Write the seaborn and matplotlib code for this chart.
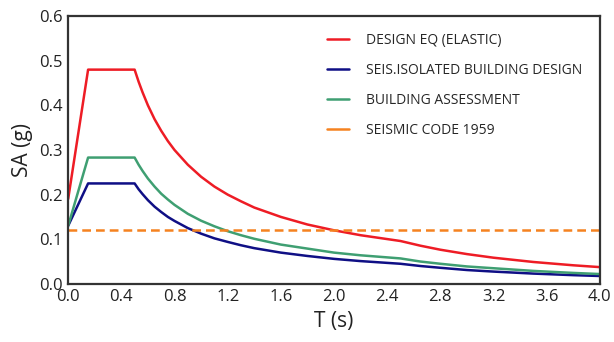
import matplotlib
matplotlib.use("Agg")
import pandas as pd
import matplotlib.pyplot as plt
import seaborn as sns

# Period values (s)
period = [0.0, 0.15, 0.5, 0.53, 0.56, 0.6, 0.65, 0.7, 0.75, 0.8, 0.9, 1.0,
          1.1, 1.2, 1.3, 1.4, 1.6, 1.8, 2.0, 2.2, 2.5, 2.65, 2.8, 3.0, 3.2,
          3.5, 3.8, 4.0]

# Spectral accelerations (g)
design_eq = [0.19, 0.48, 0.48, 0.453, 0.429, 0.40, 0.369, 0.343, 0.32, 0.30,
             0.267, 0.24, 0.218, 0.20, 0.185, 0.171, 0.15, 0.133, 0.12,
             0.109, 0.096, 0.0855, 0.0765, 0.0667, 0.0586, 0.049, 0.0416,
             0.0375]
isolated = [0.13, 0.225, 0.225, 0.212, 0.201, 0.1875, 0.173, 0.161, 0.15,
            0.141, 0.125, 0.1125, 0.102, 0.094, 0.0865, 0.080, 0.070, 0.0625,
            0.056, 0.051, 0.045, 0.040, 0.036, 0.031, 0.0275, 0.023, 0.0195,
            0.0176]
assessment = [0.13, 0.283, 0.283, 0.267, 0.253, 0.236, 0.218, 0.202, 0.189,
              0.177, 0.157, 0.1415, 0.129, 0.118, 0.109, 0.101, 0.088, 0.079,
              0.070, 0.064, 0.057, 0.050, 0.045, 0.039, 0.035, 0.029, 0.0245,
              0.022]
code_1959 = [0.12] * len(period)

labels = ["DESIGN EQ (ELASTIC)", "SEIS.ISOLATED BUILDING DESIGN",
          "BUILDING ASSESSMENT", "SEISMIC CODE 1959"]
colors = ["#ee1c25", "#0f0f85", "#3f9f72", "#f58220"]

df = pd.DataFrame({"T": period * 4,
                   "SA": design_eq + isolated + assessment + code_1959,
                   "series": [l for l in labels for _ in period]})

sns.set_style("white")
plt.rcParams["font.family"] = ["Open Sans", "DejaVu Sans"]

fig = plt.figure(figsize=(6.14, 3.42), dpi=100)
ax = fig.add_axes([0.111, 0.170, 0.866, 0.783])

sns.lineplot(data=df, x="T", y="SA", hue="series", style="series",
             palette=colors, hue_order=labels, style_order=labels,
             dashes={labels[0]: "", labels[1]: "", labels[2]: "", labels[3]: (3.5, 2)},
             linewidth=1.8, ax=ax)

ax.set_xlim(0, 4.0)
ax.set_ylim(0, 0.6)
ax.set_xticks([0.0, 0.4, 0.8, 1.2, 1.6, 2.0, 2.4, 2.8, 3.2, 3.6, 4.0])
ax.set_yticks([0.0, 0.1, 0.2, 0.3, 0.4, 0.5, 0.6])
ax.xaxis.set_major_formatter(matplotlib.ticker.FormatStrFormatter("%.1f"))
ax.yaxis.set_major_formatter(matplotlib.ticker.FormatStrFormatter("%.1f"))
ax.tick_params(axis="both", labelsize=12, colors="#222222", length=0, pad=4)
ax.set_xlabel("T (s)", fontsize=15, color="#222222")
ax.set_ylabel("SA (g)", fontsize=15, color="#222222")
for s in ax.spines.values():
    s.set_color("#333333")
    s.set_linewidth(1.6)

leg = ax.legend(loc="upper right", frameon=False, fontsize=10,
                handlelength=1.6, handletextpad=1.2, labelspacing=1.08,
                bbox_to_anchor=(0.99, 0.985))
for h in leg.get_lines():
    h.set_linestyle("-")
    h.set_linewidth(1.8)

fig.savefig("out.png", dpi=100)
